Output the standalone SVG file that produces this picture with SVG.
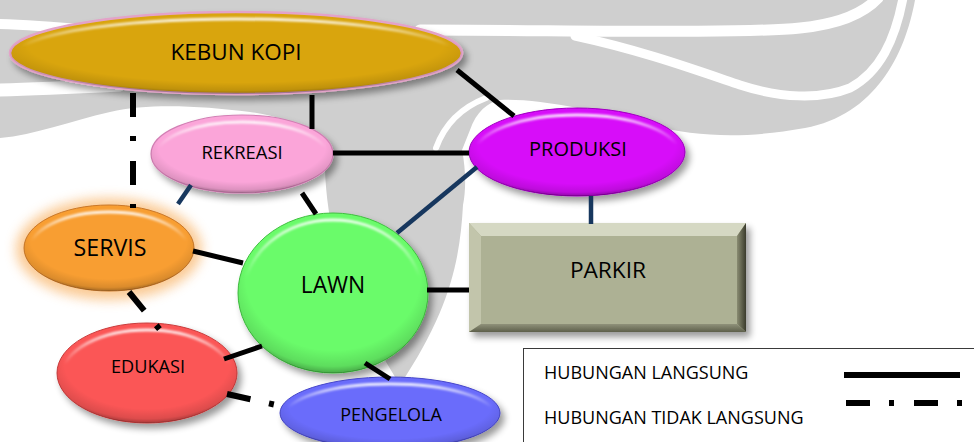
<svg xmlns="http://www.w3.org/2000/svg" width="974" height="442" viewBox="0 0 974 442">
<style>
  .lbl { font-family: "Open Sans", "Noto Sans", "Liberation Sans", sans-serif; fill: #000; text-anchor: middle; }
  .leg { font-family: "Open Sans", "Noto Sans", "Liberation Sans", sans-serif; fill: #000; font-size: 18px; }
  .solid { stroke: #000; stroke-width: 5; fill: none; }
  .navy { stroke: #17375e; stroke-width: 4.5; fill: none; }
  .dashdot { stroke: #000; stroke-width: 6; fill: none; stroke-dasharray: 24 19 5 20; }
  .edge { fill: url(#edge); }
  .hl { fill: none; stroke: url(#hl); stroke-width: 3; filter: url(#soft); }
  .wm { fill: #cfcfcf; }
  .wms { fill: none; stroke: #fff; stroke-linecap: round; }
</style>
<defs>
  <radialGradient id="edge" cx="0.5" cy="0.4" r="0.62">
    <stop offset="0" stop-color="#000" stop-opacity="0"/>
    <stop offset="0.74" stop-color="#000" stop-opacity="0"/>
    <stop offset="0.9" stop-color="#000" stop-opacity="0.12"/>
    <stop offset="1" stop-color="#000" stop-opacity="0.42"/>
  </radialGradient>
  <linearGradient id="hl" x1="0" y1="0" x2="0" y2="1">
    <stop offset="0" stop-color="#fff" stop-opacity="0.9"/>
    <stop offset="0.22" stop-color="#fff" stop-opacity="0.35"/>
    <stop offset="0.38" stop-color="#fff" stop-opacity="0"/>
  </linearGradient>
  <filter id="sh" x="-20%" y="-30%" width="145%" height="170%">
    <feGaussianBlur in="SourceAlpha" stdDeviation="3.5"/>
    <feOffset dx="4" dy="5"/>
    <feComponentTransfer><feFuncA type="linear" slope="0.4"/></feComponentTransfer>
    <feMerge><feMergeNode/><feMergeNode in="SourceGraphic"/></feMerge>
  </filter>
  <filter id="soft" x="-10%" y="-10%" width="120%" height="120%">
    <feGaussianBlur stdDeviation="0.8"/>
  </filter>
  <filter id="glow" x="-30%" y="-40%" width="160%" height="180%">
    <feGaussianBlur stdDeviation="6"/>
  </filter>
  <linearGradient id="rbev" x1="0" y1="0" x2="1" y2="0">
    <stop offset="0" stop-color="#8a8c72"/>
    <stop offset="1" stop-color="#3a3b2c"/>
  </linearGradient>
  <linearGradient id="bbev" x1="0" y1="0" x2="0" y2="1">
    <stop offset="0" stop-color="#8f917a"/>
    <stop offset="1" stop-color="#5e604b"/>
  </linearGradient>
</defs>

<rect width="974" height="442" fill="#fff"/>

<!-- watermark -->
<g id="watermark">
  <path class="wm" d="M0,0 L915,0 C905,55 875,115 805,128 C750,138 700,138 650,125 C600,112 540,98 500,100 C488,102 476,112 470,130 L462,150 C466,170 466,190 463,205 C460,260 450,310 400,385 C385,360 360,320 345,280 C332,240 326,200 325,170 C322,140 300,118 250,112 C200,106 150,103 110,112 C70,121 35,135 0,138 Z"/>
  <path class="wms" stroke-width="10" d="M0,24 C30,25 55,27 90,30"/>
  <path class="wms" stroke-width="13" d="M0,90 C40,89 80,87 120,85"/>
  <path class="wms" stroke-width="11" d="M420,30 C560,30 740,34 800,28 C840,24 865,12 878,-2"/>
  <path class="wms" stroke-width="9" d="M575,36 C640,50 690,68 740,85 C780,98 820,100 850,88 C880,72 895,40 903,-2"/>
  <path class="wms" stroke-width="6" d="M436,148 C444,126 460,108 486,98"/>
</g>

<g id="kebun-kopi">
  <ellipse cx="236" cy="53" rx="226" ry="41" fill="#d9a50a" stroke="#e3a3c8" stroke-width="2.5" filter="url(#sh)"/>
  <ellipse class="edge" cx="236" cy="53" rx="226" ry="41"/>
  <ellipse class="hl" cx="236" cy="55" rx="219" ry="36"/>
  <text class="lbl" x="236" y="60" font-size="22.5">KEBUN KOPI</text>
</g>

<g id="rekreasi">
  <ellipse cx="242" cy="154" rx="91" ry="39" fill="#fba5d9" stroke="#d27fb4" stroke-width="1.2" filter="url(#sh)"/>
  <ellipse class="edge" cx="242" cy="154" rx="91" ry="39"/>
  <ellipse class="hl" cx="242" cy="156" rx="85" ry="34"/>
  <text class="lbl" x="242" y="159" font-size="18.4">REKREASI</text>
</g>

<g id="produksi">
  <ellipse cx="577" cy="152" rx="108" ry="44" fill="#d709f9" stroke="#a000c0" stroke-width="1" filter="url(#sh)"/>
  <ellipse class="edge" cx="577" cy="152" rx="108" ry="44"/>
  <ellipse class="hl" cx="577" cy="154" rx="102" ry="39"/>
  <text class="lbl" x="578" y="156" font-size="20">PRODUKSI</text>
</g>

<g id="parkir">
  <rect x="469" y="223" width="277" height="109" fill="#adb194" filter="url(#sh)"/>
  <polygon points="469,223 746,223 737,236 481,236" fill="#d5d8c3"/>
  <polygon points="469,223 481,236 481,324 469,332" fill="#c2c5ab"/>
  <polygon points="746,223 746,332 737,324 737,236" fill="url(#rbev)"/>
  <polygon points="469,332 746,332 737,324 481,324" fill="url(#bbev)"/>
  <text class="lbl" x="608" y="278" font-size="22.7">PARKIR</text>
</g>

<g id="lawn">
  <ellipse cx="333" cy="293" rx="95" ry="80" fill="#6bfb6b" stroke="#3fbf3f" stroke-width="1" filter="url(#sh)"/>
  <ellipse class="edge" cx="333" cy="293" rx="95" ry="80"/>
  <ellipse class="hl" cx="333" cy="295" rx="89" ry="75"/>
  <text class="lbl" x="333" y="293" font-size="22.8">LAWN</text>
</g>

<g id="servis">
  <ellipse cx="109" cy="249" rx="93" ry="51" fill="#f7a040" opacity="0.55" filter="url(#glow)"/>
  <ellipse cx="109" cy="248" rx="85" ry="43" fill="#f89e32" stroke="#c9782a" stroke-width="1"/>
  <ellipse class="edge" cx="109" cy="248" rx="85" ry="43"/>
  <ellipse class="hl" cx="109" cy="250" rx="79" ry="38"/>
  <text class="lbl" x="110" y="256" font-size="23.2">SERVIS</text>
</g>

<g id="edukasi">
  <ellipse cx="147" cy="373" rx="90" ry="50" fill="#fb5656" stroke="#c83c3c" stroke-width="1" filter="url(#sh)"/>
  <ellipse class="edge" cx="147" cy="373" rx="90" ry="50"/>
  <ellipse class="hl" cx="147" cy="375" rx="84" ry="45"/>
  <text class="lbl" x="148" y="373" font-size="18.1">EDUKASI</text>
</g>

<g id="pengelola">
  <ellipse cx="390" cy="413" rx="110" ry="36" fill="#6b6cfb" stroke="#4546c8" stroke-width="1" filter="url(#sh)"/>
  <ellipse class="edge" cx="390" cy="413" rx="110" ry="36"/>
  <ellipse class="hl" cx="390" cy="415" rx="104" ry="31"/>
  <text class="lbl" x="391" y="421" font-size="18">PENGELOLA</text>
</g>

<!-- connectors -->
<g id="connectors">
  <line class="solid" x1="457" y1="70" x2="514" y2="116"/>
  <line class="solid" x1="312" y1="95" x2="312" y2="129"/>
  <line class="dashdot" x1="133" y1="93" x2="133" y2="208"/>
  <line class="solid" x1="333" y1="153" x2="469" y2="153"/>
  <line class="navy" x1="191" y1="185" x2="178" y2="204"/>
  <line class="solid" x1="302" y1="193" x2="316" y2="214"/>
  <line class="navy" x1="477" y1="167" x2="397" y2="233"/>
  <line class="navy" x1="591" y1="196" x2="591" y2="224"/>
  <line class="solid" x1="193" y1="251" x2="243" y2="263"/>
  <line class="solid" x1="427" y1="290" x2="469" y2="290"/>
  <line class="dashdot" x1="129" y1="292" x2="161" y2="331"/>
  <line class="solid" x1="224" y1="359" x2="262" y2="346"/>
  <line class="dashdot" x1="227" y1="394" x2="276" y2="405"/>
  <line class="solid" x1="365" y1="363" x2="390" y2="379"/>
</g>

<g id="legend">
  <rect x="523.5" y="348.5" width="460" height="100" fill="#fff" stroke="#3a3a3a" stroke-width="1"/>
  <text class="leg" x="544" y="379">HUBUNGAN LANGSUNG</text>
  <text class="leg" x="544" y="424">HUBUNGAN TIDAK LANGSUNG</text>
  <line x1="844" y1="375" x2="960" y2="375" stroke="#000" stroke-width="6"/>
  <line class="dashdot" x1="846" y1="403" x2="962" y2="403"/>
</g>
</svg>
